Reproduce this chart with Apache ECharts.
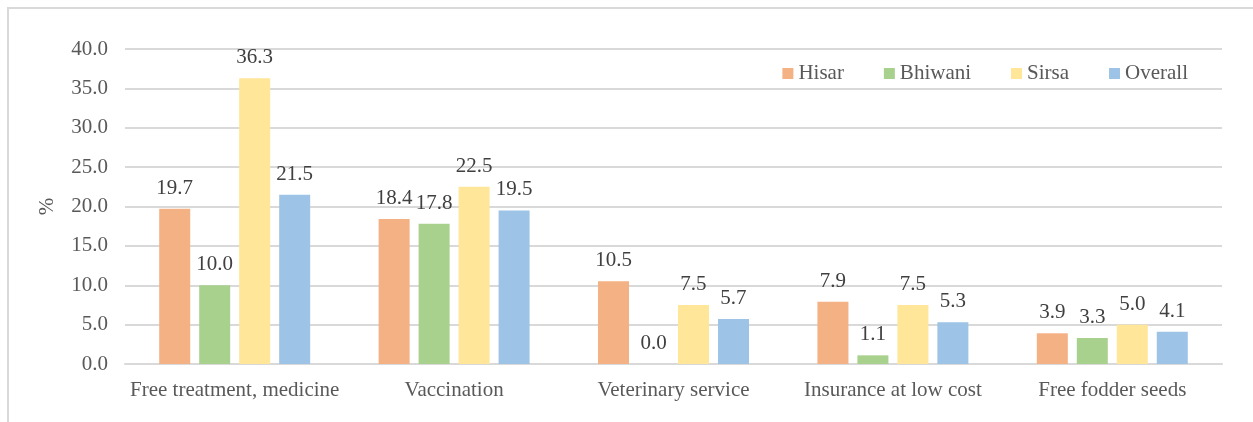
<!DOCTYPE html>
<html>
<head>
<meta charset="utf-8">
<script src="https://cdn.jsdelivr.net/npm/echarts@6/dist/echarts.min.js"></script>
<style>
  html, body { margin: 0; padding: 0; background: #fff; }
  #wrap { position: relative; width: 1253px; height: 422px; overflow: hidden; }
  #frame { position: absolute; left: 7px; top: 7px; width: 1400px; height: 600px;
           border-top: 2px solid #d9d9d9; border-left: 2px solid #d9d9d9; }
  #chart { position: absolute; left: 0; top: 0; width: 1253px; height: 422px; }
</style>
</head>
<body>
<div id="wrap">
  <div id="frame"></div>
  <div id="chart"></div>
</div>
<script>
const categories = ["Free treatment, medicine", "Vaccination", "Veterinary service", "Insurance at low cost", "Free fodder seeds"];
const seriesNames = ["Hisar", "Bhiwani", "Sirsa", "Overall"];
const hisar = [19.7, 18.4, 10.5, 7.9, 3.9];
const bhiwani = [10.0, 17.8, 0.0, 1.1, 3.3];
const sirsa = [36.3, 22.5, 7.5, 7.5, 5.0];
const overall = [21.5, 19.5, 5.7, 5.3, 4.1];
const colors = ["#F4B183", "#A9D18E", "#FFE699", "#9DC3E6"];

const font = "'Liberation Serif', 'Times New Roman', serif";

let mychart = echarts.init(document.getElementById("chart"));

function makeSeries(name, data, color) {
  return {
    name: name,
    type: "bar",
    data: data,
    barWidth: 31,
    barGap: "29%",
    itemStyle: { color: color },
    label: {
      show: true,
      position: "top",
      distance: 10,
      color: "#404040",
      fontSize: 21,
      fontFamily: font,
      formatter: p => p.value.toFixed(1)
    }
  };
}

let option = {
  animation: false,
  textStyle: { fontFamily: font },
  grid: {
    left: 125,
    right: 31,
    top: 49,
    bottom: 58
  },
  legend: {
    data: seriesNames,
    right: 60,
    top: 58,
    itemWidth: 11,
    itemHeight: 11,
    itemGap: 40,
    icon: "rect",
    textStyle: { color: "#595959", fontSize: 21, fontFamily: font }
  },
  xAxis: {
    type: "category",
    data: categories,
    axisTick: { show: false },
    axisLine: { lineStyle: { color: "#d9d9d9", width: 2 } },
    axisLabel: { color: "#595959", fontSize: 21, fontFamily: font, margin: 16, interval: 0 }
  },
  yAxis: {
    type: "value",
    min: 0,
    max: 40,
    interval: 5,
    name: "%",
    nameLocation: "middle",
    nameGap: 67,
    nameRotate: 90,
    nameTextStyle: { color: "#595959", fontSize: 21, fontFamily: font },
    axisLine: { show: false },
    axisTick: { show: false },
    axisLabel: { color: "#595959", fontSize: 21, fontFamily: font, margin: 17, formatter: v => v.toFixed(1) },
    splitLine: { lineStyle: { color: "#d9d9d9", width: 2 } }
  },
  series: [
    makeSeries(seriesNames[0], hisar, colors[0]),
    makeSeries(seriesNames[1], bhiwani, colors[1]),
    makeSeries(seriesNames[2], sirsa, colors[2]),
    makeSeries(seriesNames[3], overall, colors[3])
  ]
};

mychart.setOption(option);
</script>
</body>
</html>
